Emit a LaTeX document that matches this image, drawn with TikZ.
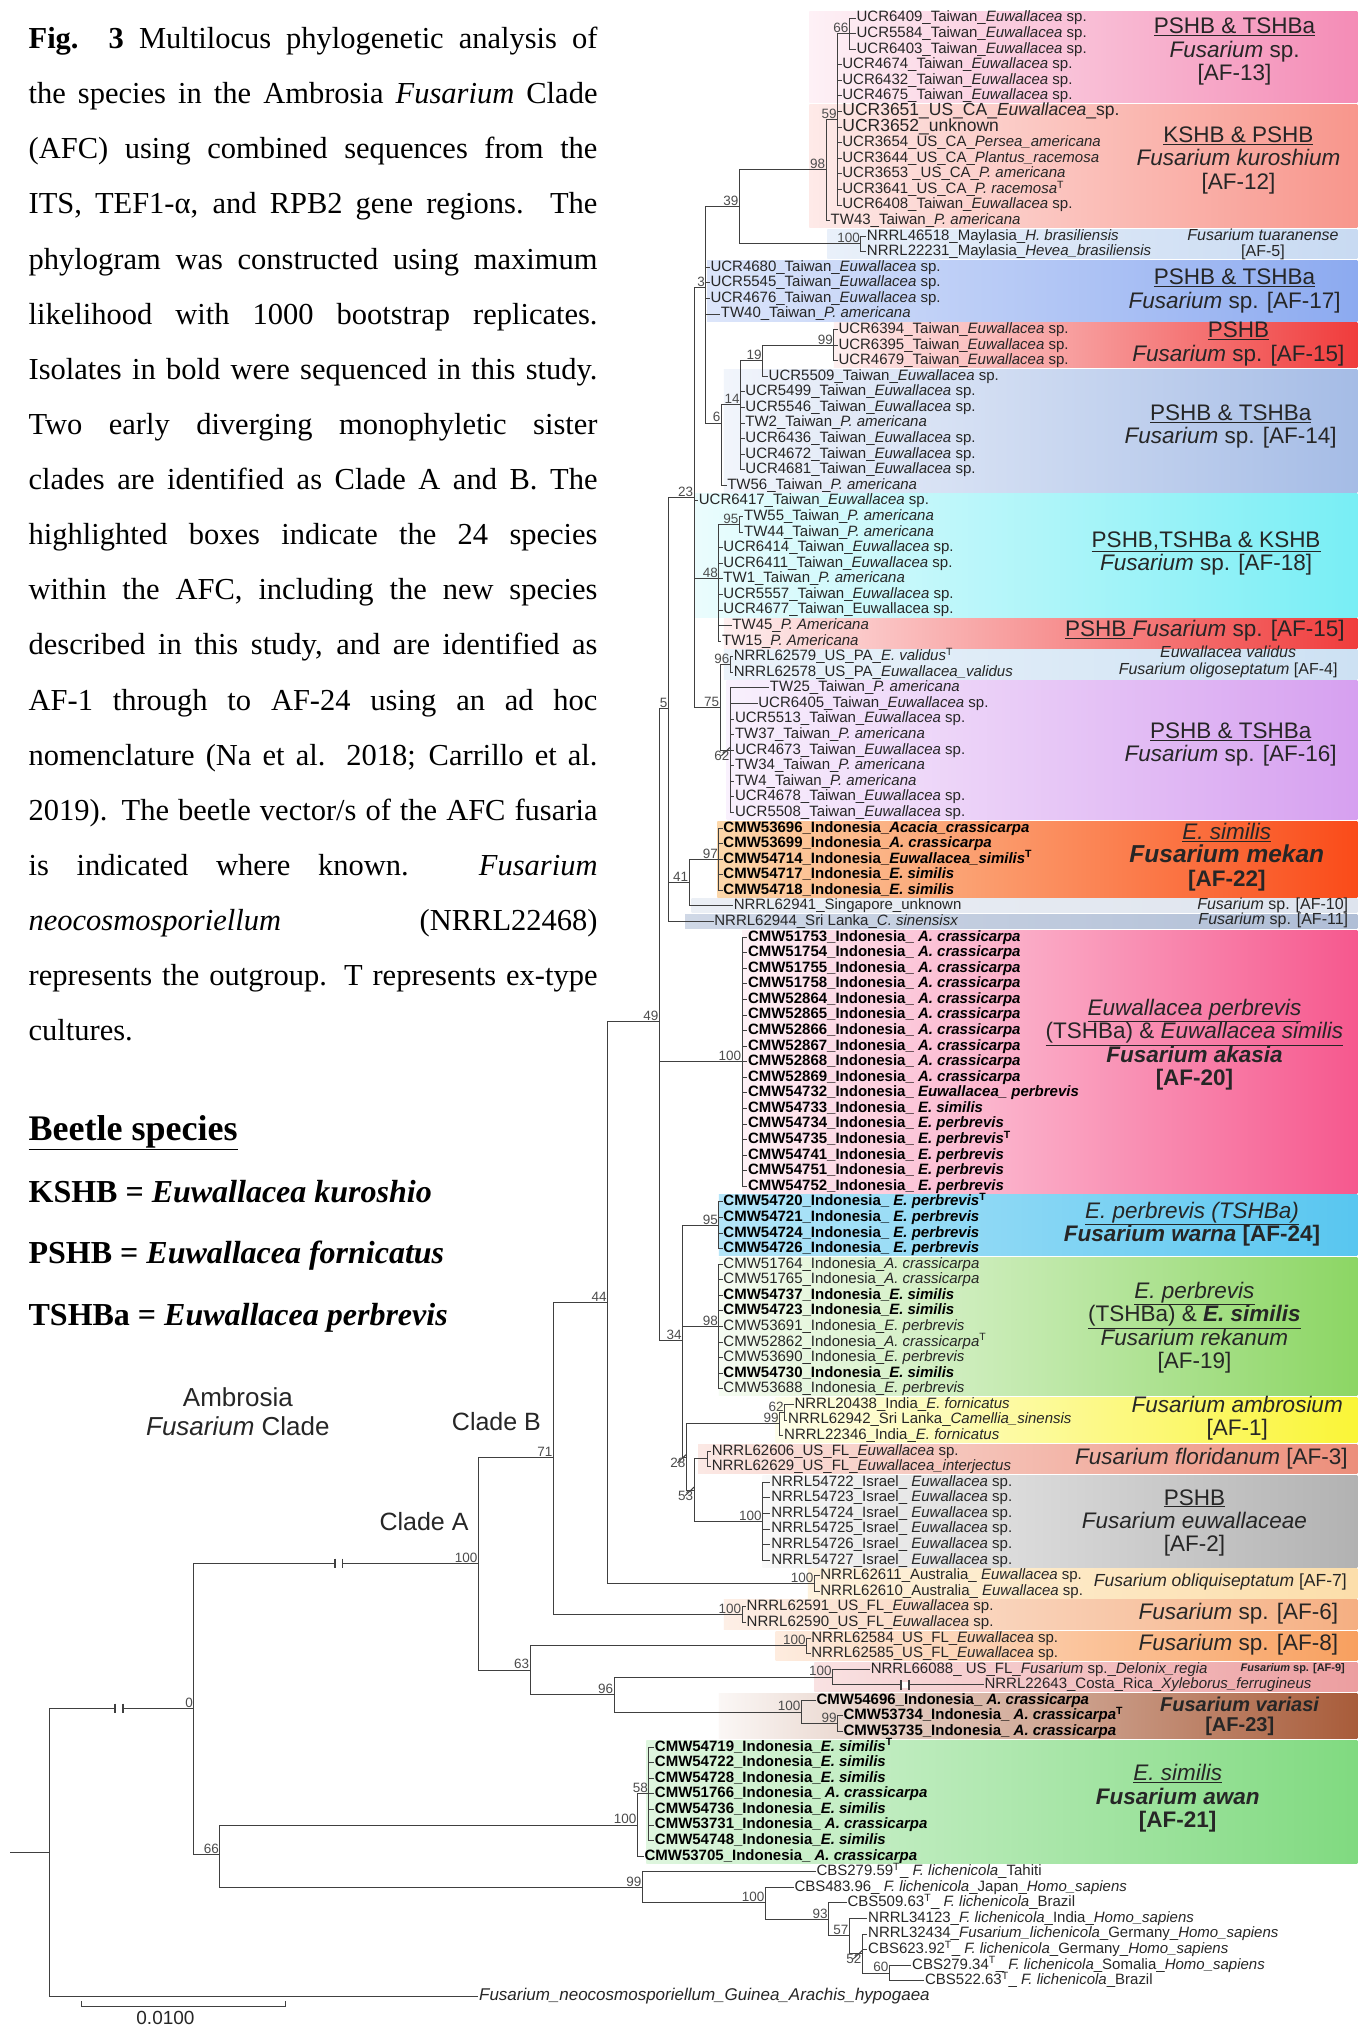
\documentclass[tikz,border=0pt]{standalone}
\usepackage{fontspec}
\setmainfont{Liberation Serif}
\setsansfont{Liberation Sans}

\newcommand{\tipfont}{\sffamily\fontsize{15bp}{15bp}\selectfont}
\newcommand{\bigtip}{\sffamily\fontsize{17.5bp}{17.5bp}\selectfont}
\newcommand{\bsfont}{\sffamily\fontsize{13.5bp}{14bp}\selectfont}
\newcommand{\boxfont}{\sffamily\fontsize{22.5bp}{23.3bp}\selectfont}
\newcommand{\smallfont}{\sffamily\fontsize{16bp}{16.5bp}\selectfont}
\newcommand{\capfont}{\rmfamily\fontsize{30.5bp}{55bp}\selectfont}
\newcommand{\cladefont}{\sffamily\fontsize{25bp}{28.5bp}\selectfont}

\newcommand{\Esp}{\textit{Euwallacea} sp.}
\newcommand{\Pam}{\textit{P. americana}}
\newcommand{\Acr}{\textit{A. crassicarpa}}
\newcommand{\Esim}{\textit{E. similis}}
\newcommand{\Eper}{\textit{E. perbrevis}}
\newcommand{\Flich}{\textit{F. lichenicola}}
\newcommand{\Homo}{\textit{Homo\_sapiens}}
\newcommand{\sT}{\textsuperscript{T}}
\newcommand{\tip}[3]{\node[tiplab] (t#1) at (#2,#1) {#3};}
\newcommand{\btip}[3]{\node[btip] (t#1) at (#2,#1) {#3};}

\definecolor{p13}{RGB}{244,140,182}
\definecolor{p12}{RGB}{248,150,140}
\definecolor{p5}{RGB}{200,218,242}
\definecolor{p17}{RGB}{140,170,240}
\definecolor{p15}{RGB}{240,60,60}
\definecolor{p14}{RGB}{165,188,230}
\definecolor{p18}{RGB}{120,238,245}
\definecolor{p4}{RGB}{205,225,243}
\definecolor{p16}{RGB}{214,160,240}
\definecolor{p22l}{RGB}{252,215,170}
\definecolor{p22}{RGB}{250,75,25}
\definecolor{p10}{RGB}{222,228,238}
\definecolor{p11}{RGB}{176,190,214}
\definecolor{p20}{RGB}{246,88,142}
\definecolor{p24}{RGB}{88,198,240}
\definecolor{p19}{RGB}{140,214,100}
\definecolor{p1}{RGB}{250,245,55}
\definecolor{p3}{RGB}{236,142,122}
\definecolor{p2}{RGB}{178,178,178}
\definecolor{p7}{RGB}{252,222,170}
\definecolor{p6}{RGB}{245,175,130}
\definecolor{p8}{RGB}{248,160,95}
\definecolor{p9}{RGB}{236,158,160}
\definecolor{p23m}{RGB}{215,128,60}
\definecolor{p23}{RGB}{168,92,58}
\definecolor{p21}{RGB}{128,218,128}

\tikzset{
  br/.style={line width=1bp, draw=black!75},
  tiplab/.style={anchor=west, inner sep=0.6bp, font=\tipfont, text=black!85, text height=10.8bp, text depth=3bp},
  btip/.style={tiplab, font=\tipfont\bfseries, text=black},
  bs/.style={anchor=south east, inner sep=0.8bp, font=\bsfont, text=black!70},
  bsb/.style={bs, anchor=north east},
  boxlab/.style={align=center, font=\boxfont, text=black!85, inner sep=0pt},
  capline/.style={anchor=base west, inner sep=0pt, font=\capfont},
  legline/.style={anchor=base west, inner sep=0pt, font=\rmfamily\bfseries\fontsize{32bp}{36bp}\selectfont},
  clade/.style={align=center, font=\cladefont, text=black!85, inner sep=0pt}
}

\begin{document}
\begin{tikzpicture}[x=1.293bp, y=-1.293bp]
\useasboundingbox (0,0) rectangle (1058,1568);
\fill[white] (0,0) rectangle (1058,1568);

% figure caption
\foreach \l [count=\i] in {
  {\textbf{Fig.}\ \ \textbf{3} Multilocus phylogenetic analysis of},
  {the species in the Ambrosia \textit{Fusarium} Clade},
  {(AFC) using combined sequences from the},
  {ITS, TEF1-α, and RPB2 gene regions. The},
  {phylogram was constructed using maximum},
  {likelihood with 1000 bootstrap replicates.},
  {Isolates in bold were sequenced in this study.},
  {Two early diverging monophyletic sister},
  {clades are identified as Clade A and B. The},
  {highlighted boxes indicate the 24 species},
  {within the AFC, including the new species},
  {described in this study, and are identified as},
  {AF-1 through to AF-24 using an ad hoc},
  {nomenclature (Na et al. 2018; Carrillo et al.},
  {2019). The beetle vector/s of the AFC fusaria},
  {is indicated where known. \textit{Fusarium}},
  {\textit{neocosmosporiellum} (NRRL22468)},
  {represents the outgroup. T represents ex-type}}
  \node[capline] (cap\i) at (22,{37.5+(\i-1)*42.65}) {\makebox[569bp][s]{\l}};
\node[capline] (cap19) at (22,805.2) {cultures.};

% beetle legend
\node[anchor=base west, inner sep=0pt, font=\rmfamily\bfseries\fontsize{36bp}{40bp}\selectfont] (beetle) at (22,882) {\underline{Beetle species}};
\node[legline] (kshb) at (22,930) {KSHB = \textit{Euwallacea kuroshio}};
\node[legline] (pshb) at (22,977) {PSHB = \textit{Euwallacea fornicatus}};
\node[legline] (tshb) at (22,1025) {TSHBa = \textit{Euwallacea perbrevis}};

\begin{scope}[shift={(0,1.95)}, y=-15.58bp]
% species boxes
\foreach \xl/\ra/\rb/\cl/\cr in {626/1/6/p13!12/p13, 626/7/14/p12!20/p12, 640/15/16/p5!40/p5,
  547/17/20/p17!30/p17, 645/21/23/p15!8/p15, 560/24/31/p14!15/p14, 537/32/39/p18!15/p18,
  560/40/41/p15!8/p15, 560/42/43/p4!40/p4, 562/44/52/p16!15/p16, 555/53/57/p22l/p22,
  535/58/58/p10!60/p10, 530/59/59/p11!60/p11, 574/60/76/p20!8/p20, 556/77/80/p24!45/p24,
  556/81/89/p19!8/p19, 600/90/92/p1!10/p1, 540/93/94/p3!20/p3, 590/95/100/p2!8/p2,
  625/101/102/p7!40/p7, 560/103/104/p6!20/p6, 600/105/106/p8!20/p8, 630/107/108/p9!30/p9,
  500/112/119/p21!25/p21}
  \shade[left color=\cl, right color=\cr] (\xl,\ra-0.45) rectangle (1050,\rb+0.45);
\shade[left color=p23!5, middle color=p23m, right color=p23] (556,108.55) rectangle (1050,111.45);

% internal nodes
\foreach \n/\x/\y in {n66/657/2, n59/648/7.5, n98/639/10.75, n100a/666/15.5, n39/572/13.125,
  n3/546/18.3, n99b/645/22, n19/590/23, n14/573/25.8, n6/558/27, n23/537/31.8, n95/572/33.5,
  n48/556/37, n96/565/42.5, n62/565/48, n75/557/45.25, n97/556/55, n41/533/56.5, n5/517/45.35,
  n100b/574/68, n95b/556/78.5, n98b/556/85, n62b/607/90.5, n99e/603/91.25, nP/547/93.5,
  n100c/590/97.5, n53/537/95.5, n28/531/93.4, n34/528/85.9, n49/510/65.4, n100d/630/101.5,
  n44/470/83.45, n100e/574/103.5, n71/428/93.4, n100f/624/105.5, n100g/644/107.5,
  n99c/648/110.5, n100h/620/109.75, n96c/475/108.6, n63/410/107.05, nA/370/100.2,
  n58/502/115, n100i/493/117, n60/688/126.5, n52/667/125.25, n57/657/124.1, n93/641/123.05,
  n100j/592/122, n99d/497/121, n66L/170/118.9, n0/150/109.5, root/38/118.75, stub/8/118.75}
  \coordinate (\n) at (\x,\y);

% tips
\tip{1}{662}{UCR6409\_Taiwan\_\Esp}
\tip{2}{662}{UCR5584\_Taiwan\_\Esp}
\tip{3}{662}{UCR6403\_Taiwan\_\Esp}
\tip{4}{651}{UCR4674\_Taiwan\_\Esp}
\tip{5}{651}{UCR6432\_Taiwan\_\Esp}
\tip{6}{651}{UCR4675\_Taiwan\_\Esp}
\node[tiplab, font=\bigtip] (t7) at (651,7) {UCR3651\_US\_CA\_\textit{Euwallacea}\_sp.};
\node[tiplab, font=\bigtip] (t8) at (651,8) {UCR3652\_unknown};
\tip{9}{651}{UCR3654\_US\_CA\_\textit{Persea\_americana}}
\tip{10}{651}{UCR3644\_US\_CA\_\textit{Plantus\_racemosa}}
\tip{11}{651}{UCR3653 \_US\_CA\_\Pam}
\tip{12}{651}{UCR3641\_US\_CA\_\textit{P. racemosa}\sT}
\tip{13}{651}{UCR6408\_Taiwan\_\Esp}
\tip{14}{642}{TW43\_Taiwan\_\Pam}
\tip{15}{670}{NRRL46518\_Maylasia\_\textit{H. brasiliensis}}
\tip{16}{670}{NRRL22231\_Maylasia\_\textit{Hevea\_brasiliensis}}
\tip{17}{549}{UCR4680\_Taiwan\_\Esp}
\tip{18}{549}{UCR5545\_Taiwan\_\Esp}
\tip{19}{549}{UCR4676\_Taiwan\_\Esp}
\tip{20}{557}{TW40\_Taiwan\_\Pam}
\tip{21}{648}{UCR6394\_Taiwan\_\Esp}
\tip{22}{648}{UCR6395\_Taiwan\_\Esp}
\tip{23}{648}{UCR4679\_Taiwan\_\Esp}
\tip{24}{594}{UCR5509\_Taiwan\_\Esp}
\tip{25}{576}{UCR5499\_Taiwan\_\Esp}
\tip{26}{576}{UCR5546\_Taiwan\_\Esp}
\tip{27}{576}{TW2\_Taiwan\_\Pam}
\tip{28}{576}{UCR6436\_Taiwan\_\Esp}
\tip{29}{576}{UCR4672\_Taiwan\_\Esp}
\tip{30}{576}{UCR4681\_Taiwan\_\Esp}
\tip{31}{562}{TW56\_Taiwan\_\Pam}
\tip{32}{540}{UCR6417\_Taiwan\_\Esp}
\tip{33}{575}{TW55\_Taiwan\_\Pam}
\tip{34}{575}{TW44\_Taiwan\_\Pam}
\tip{35}{559}{UCR6414\_Taiwan\_\Esp}
\tip{36}{559}{UCR6411\_Taiwan\_\Esp}
\tip{37}{559}{TW1\_Taiwan\_\Pam}
\tip{38}{559}{UCR5557\_Taiwan\_\Esp}
\tip{39}{559}{UCR4677\_Taiwan\_Euwallacea sp.}
\tip{40}{566}{TW45\_\textit{P. Americana}}
\tip{41}{558}{TW15\_\textit{P. Americana}}
\tip{42}{567}{NRRL62579\_US\_PA\_\textit{E. validus}\sT}
\tip{43}{567}{NRRL62578\_US\_PA\_\textit{Euwallacea\_validus}}
\tip{44}{595}{TW25\_Taiwan\_\Pam}
\tip{45}{586}{UCR6405\_Taiwan\_\Esp}
\tip{46}{568}{UCR5513\_Taiwan\_\Esp}
\tip{47}{568}{TW37\_Taiwan\_\Pam}
\tip{48}{568}{UCR4673\_Taiwan\_\Esp}
\tip{49}{568}{TW34\_Taiwan\_\Pam}
\tip{50}{568}{TW4\_Taiwan\_\Pam}
\tip{51}{568}{UCR4678\_Taiwan\_\Esp}
\tip{52}{568}{UCR5508\_Taiwan\_\Esp}
\btip{53}{559}{CMW53696\_Indonesia\_\textit{Acacia\_crassicarpa}}
\btip{54}{559}{CMW53699\_Indonesia\_\Acr}
\btip{55}{559}{CMW54714\_Indonesia\_\textit{Euwallacea\_similis}\sT}
\btip{56}{559}{CMW54717\_Indonesia\_\Esim}
\btip{57}{559}{CMW54718\_Indonesia\_\Esim}
\tip{58}{567}{NRRL62941\_Singapore\_unknown}
\tip{59}{552}{NRRL62944\_Sri Lanka\_\textit{C. sinensisx}}
\foreach \k/\id in {60/51753, 61/51754, 62/51755, 63/51758, 64/52864, 65/52865, 66/52866, 67/52867, 68/52868, 69/52869}
  \node[btip] (t\k) at (578,\k) {CMW\id\_Indonesia\_ \Acr};
\btip{70}{578}{CMW54732\_Indonesia\_ \textit{Euwallacea\_ perbrevis}}
\btip{71}{578}{CMW54733\_Indonesia\_ \Esim}
\btip{72}{578}{CMW54734\_Indonesia\_ \Eper}
\btip{73}{578}{CMW54735\_Indonesia\_ \Eper\sT}
\btip{74}{578}{CMW54741\_Indonesia\_ \Eper}
\btip{75}{578}{CMW54751\_Indonesia\_ \Eper}
\btip{76}{578}{CMW54752\_Indonesia\_ \Eper}
\btip{77}{559}{CMW54720\_Indonesia\_ \Eper\sT}
\btip{78}{559}{CMW54721\_Indonesia\_ \Eper}
\btip{79}{559}{CMW54724\_Indonesia\_ \Eper}
\btip{80}{559}{CMW54726\_Indonesia\_ \Eper}
\tip{81}{559}{CMW51764\_Indonesia\_\Acr}
\tip{82}{559}{CMW51765\_Indonesia\_\Acr}
\btip{83}{559}{CMW54737\_Indonesia\_\Esim}
\btip{84}{559}{CMW54723\_Indonesia\_\Esim}
\tip{85}{559}{CMW53691\_Indonesia\_\Eper}
\tip{86}{559}{CMW52862\_Indonesia\_\Acr\sT}
\tip{87}{559}{CMW53690\_Indonesia\_\Eper}
\btip{88}{559}{CMW54730\_Indonesia\_\Esim}
\tip{89}{559}{CMW53688\_Indonesia\_\Eper}
\tip{90}{614}{NRRL20438\_India\_\textit{E. fornicatus}}
\tip{91}{609}{NRRL62942\_Sri Lanka\_\textit{Camellia\_sinensis}}
\tip{92}{606}{NRRL22346\_India\_\textit{E. fornicatus}}
\tip{93}{550}{NRRL62606\_US\_FL\_\Esp}
\tip{94}{550}{NRRL62629\_US\_FL\_\textit{Euwallacea\_interjectus}}
\foreach \k/\id in {95/54722, 96/54723, 97/54724, 98/54725, 99/54726, 100/54727}
  \node[tiplab] (t\k) at (596,\k) {NRRL\id\_Israel\_ \Esp};
\tip{101}{634}{NRRL62611\_Australia\_ \Esp}
\tip{102}{634}{NRRL62610\_Australia\_ \Esp}
\tip{103}{577}{NRRL62591\_US\_FL\_\Esp}
\tip{104}{577}{NRRL62590\_US\_FL\_\Esp}
\tip{105}{627}{NRRL62584\_US\_FL\_\Esp}
\tip{106}{627}{NRRL62585\_US\_FL\_\Esp}
\tip{107}{673}{NRRL66088\_ US\_FL\_\textit{Fusarium} sp.\_\textit{Delonix\_regia}}
\tip{108}{761}{NRRL22643\_Costa\_Rica\_\textit{Xyleborus\_ferrugineus}}
\btip{109}{631}{CMW54696\_Indonesia\_ \Acr}
\btip{110}{652}{CMW53734\_Indonesia\_ \Acr\sT}
\btip{111}{652}{CMW53735\_Indonesia\_ \Acr}
\btip{112}{506}{CMW54719\_Indonesia\_\Esim\sT}
\btip{113}{506}{CMW54722\_Indonesia\_\Esim}
\btip{114}{506}{CMW54728\_Indonesia\_\Esim}
\btip{115}{506}{CMW51766\_Indonesia\_ \Acr}
\btip{116}{506}{CMW54736\_Indonesia\_\Esim}
\btip{117}{506}{CMW53731\_Indonesia\_ \Acr}
\btip{118}{506}{CMW54748\_Indonesia\_\Esim}
\btip{119}{498}{CMW53705\_Indonesia\_ \Acr}
\tip{120}{631}{CBS279.59\sT\_ \Flich\_Tahiti}
\tip{121}{614}{CBS483.96\_ \Flich\_Japan\_\Homo}
\tip{122}{655}{CBS509.63\sT\_ \Flich\_Brazil}
\tip{123}{671}{NRRL34123\_\Flich\_India\_\Homo}
\tip{124}{671}{NRRL32434\_\textit{Fusarium\_lichenicola}\_Germany\_\Homo}
\tip{125}{671}{CBS623.92\sT\_ \Flich\_Germany\_\Homo}
\tip{126}{705}{CBS279.34\sT\_ \Flich\_Somalia\_\Homo}
\tip{127}{715}{CBS522.63\sT\_ \Flich\_Brazil}
\node[tiplab, font=\sffamily\fontsize{17bp}{17bp}\selectfont] (t128) at (370,128) {\textit{Fusarium\_neocosmosporiellum\_Guinea\_Arachis\_hypogaea}};

% branches to tips
\foreach \p/\a/\b in {n66/1/3, n59/4/13, n100a/15/16, n3/17/20, n99b/21/23, n14/25/30, n95/33/34,
  n48/35/41, n96/42/43, n62/44/52, n97/53/57, n100b/60/76, n95b/77/80, n98b/81/89, nP/93/94,
  n100c/95/100, n100d/101/102, n100e/103/104, n100f/105/106, n99c/110/111, n58/112/118, n60/126/127}
  \foreach \k in {\a,...,\b} \draw[br] (\p) |- (t\k.west);
% branches between nodes
\foreach \a/\b in {n59/n66, n98/n59, n98/t14.west, n39/n98, n39/n100a, n3/n39, n3/n6, n19/n99b,
  n19/t24.west, n14/n19, n6/n14, n6/t31.west, n23/n3, n23/t32.west, n23/n48, n23/n75, n48/n95,
  n75/n96, n75/n62, n41/n97, n41/t58.west, n5/n23, n5/n41, n5/t59.west, n62b/t90.west,
  n62b/t91.west, n99e/n62b, n99e/t92.west, n53/nP, n53/n100c, n28/n99e, n28/n53, n34/n95b,
  n34/n98b, n34/n28, n49/n5, n49/n100b, n49/n34, n44/n49, n44/n100d, n71/n44, n71/n100e,
  n100g/t107.west, n100g/t108.west, n100h/t109.west, n100h/n99c, n96c/n100g, n96c/n100h,
  n63/n100f, n63/n96c, nA/n71, nA/n63, n100i/n58, n100i/t119.west, n52/t124.west,
  n52/t125.west, n52/n60, n57/t123.west, n57/n52, n93/t122.west, n93/n57, n100j/t121.west,
  n100j/n93, n99d/t120.west, n99d/n100j, n66L/n100i, n66L/n99d, n0/nA, n0/n66L, root/n0,
  root/t128.west}
  \draw[br] (\a) |- (\b);
\draw[br] (stub) -- (root);

% very short branches
\foreach \n in {n62,n28,n53,n52}
  \draw[br] (\n) ++(-7,0.35) -- ++(7,-0.55);
% broken branches
\foreach \bx/\by in {92/109.5, 262/100.2, 700/108} {
  \fill[white] (\bx-2.5,\by-0.2) rectangle (\bx+2.5,\by+0.2);
  \draw[br, line width=1.8bp] (\bx-3,\by-0.3) -- (\bx-3,\by+0.3);
  \draw[br, line width=1.8bp] (\bx+3,\by-0.3) -- (\bx+3,\by+0.3);
}

% bootstrap values
\foreach \n/\v in {n66/66, n59/59, n98/98, n100a/100, n39/39, n3/3, n99b/99, n19/19, n14/14, n6/6,
  n23/23, n95/95, n48/48, n96/96, n75/75, n5/5, n97/97, n41/41, n49/49, n100b/100, n95b/95,
  n98b/98, n34/34, n62b/62, n99e/99, n100c/100, n44/44, n71/71, n100d/100, n100e/100, nA/100,
  n100f/100, n63/63, n100g/100, n96c/96, n100h/100, n99c/99, n0/0, n58/58, n100i/100, n66L/66,
  n99d/99, n100j/100, n93/93, n57/57, n60/60}
  \node[bs] at (\n) {\v};
\foreach \n/\v in {n62/62, n28/28, n53/53, n52/52}
  \node[bsb] at (\n) {\v};
\end{scope}

% species labels
\node[boxlab] (af13) at (955,40) {\underline{PSHB \& TSHBa}\\\textit{Fusarium} sp.\\{[AF-13]}};
\node[boxlab] (af12) at (958,124) {\underline{KSHB \& PSHB}\\\textit{Fusarium kuroshium}\\{[AF-12]}};
\node[boxlab, font=\smallfont] (af5) at (977,189) {\textit{Fusarium tuaranense}\\{[AF-5]}};
\node[boxlab] (af17) at (955,225) {\underline{PSHB \& TSHBa}\\\textit{Fusarium} sp. [AF-17]};
\node[boxlab] (af15) at (958,266) {\underline{PSHB}\\\textit{Fusarium} sp. [AF-15]};
\node[boxlab] (af14) at (952,330) {\underline{PSHB \& TSHBa}\\\textit{Fusarium} sp. [AF-14]};
\node[boxlab] (af18) at (933,428) {\underline{PSHB,TSHBa \& KSHB}\\\textit{Fusarium} sp. [AF-18]};
\node[boxlab] (af15b) at (932,488) {\underline{PSHB\ }\textit{Fusarium} sp. [AF-15]};
\node[boxlab, font=\smallfont] (af4) at (950,512) {\textit{Euwallacea validus}\\\textit{Fusarium oligoseptatum} [AF-4]};
\node[boxlab] (af16) at (952,576) {\underline{PSHB \& TSHBa}\\\textit{Fusarium} sp. [AF-16]};
\node[boxlab] (af22) at (949,663) {\underline{\textit{E. similis}}\\{\fontsize{24.5bp}{23.3bp}\selectfont\bfseries\itshape Fusarium mekan}\\\textbf{[AF-22]}};
\node[boxlab, font=\smallfont, anchor=east] (af10) at (1043,700) {\textit{Fusarium} sp. [AF-10]};
\node[boxlab, font=\smallfont, anchor=east] (af11) at (1043,712) {\textit{Fusarium} sp. [AF-11]};
\node[boxlab] (af20) at (924,808) {\underline{\textit{Euwallacea perbrevis}}\\\underline{(TSHBa) \& \textit{Euwallacea similis}}\\\textbf{\textit{Fusarium akasia}}\\\textbf{[AF-20]}};
\node[boxlab] (af24) at (922,947) {\underline{\textit{E. perbrevis (TSHBa)}}\\\textbf{\textit{Fusarium warna} [AF-24]}};
\node[boxlab] (af19) at (924,1027) {\underline{\textit{E. perbrevis}}\\\underline{(TSHBa) \& \textbf{\textit{E. similis}}}\\\textit{Fusarium rekanum}\\{[AF-19]}};
\node[boxlab] (af1) at (957,1097) {\textit{Fusarium ambrosium}\\{[AF-1]}};
\node[boxlab] (af3) at (937,1128) {\textit{Fusarium floridanum} [AF-3]};
\node[boxlab] (af2) at (924,1178) {\underline{PSHB}\\\textit{Fusarium euwallaceae}\\{[AF-2]}};
\node[boxlab, font=\sffamily\fontsize{17.5bp}{18bp}\selectfont] (af7) at (944,1224) {\textit{Fusarium obliquiseptatum} [AF-7]};
\node[boxlab] (af6) at (958,1248) {\textit{Fusarium} sp. [AF-6]};
\node[boxlab] (af8) at (958,1272) {\textit{Fusarium} sp. [AF-8]};
\node[boxlab, font=\sffamily\bfseries\fontsize{11bp}{12bp}\selectfont] (af9) at (1000,1291) {\textit{Fusarium} sp. [AF-9]};
\node[boxlab, font=\sffamily\bfseries\fontsize{20bp}{19.5bp}\selectfont] (af23) at (959,1327.5) {\textit{Fusarium variasi}\\{[AF-23]}};
\node[boxlab] (af21) at (911,1391) {\underline{\textit{E. similis}}\\\textbf{\textit{Fusarium awan}}\\\textbf{[AF-21]}};

% clade names
\node[clade, font=\sffamily\fontsize{26bp}{28.5bp}\selectfont] (afc) at (184,1092) {Ambrosia\\\textit{Fusarium} Clade};
\node[clade] (cladeB) at (384,1100) {Clade B};
\node[clade] (cladeA) at (328,1177) {Clade A};

% scale bar
\coordinate (sb0) at (63,1552);
\coordinate (sb1) at (221,1552);
\draw[br] (sb0) ++(0,-4) -- (sb0) -- (sb1) -- ++(0,-4);
\node[font=\sffamily\fontsize{19bp}{20bp}\selectfont, text=black!85, inner sep=0pt] (sblab) at (128,1561) {0.0100};
\end{tikzpicture}
\end{document}
